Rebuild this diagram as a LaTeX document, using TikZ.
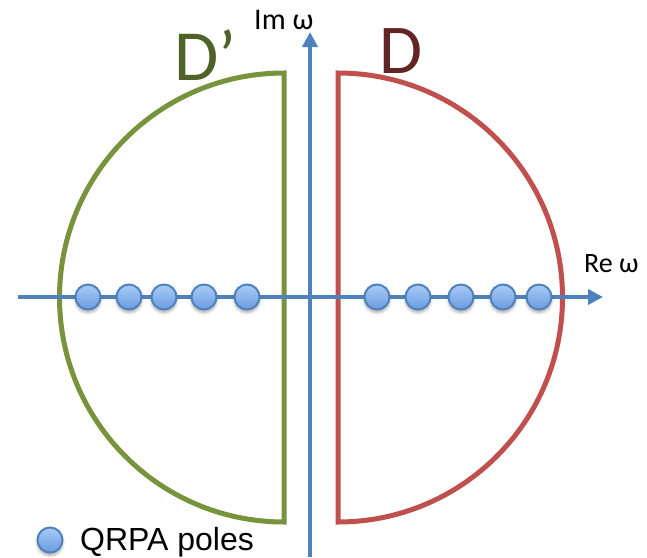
\documentclass[tikz,border=0pt]{standalone}
\usepackage{fontspec}
\setmainfont{Carlito}
\newfontfamily\legendfont{Liberation Sans}
\usetikzlibrary{arrows.meta,shadows.blur}
\definecolor{axisblue}{HTML}{4F81BD}
\definecolor{dgreen}{HTML}{77933C}
\definecolor{dred}{HTML}{C0504D}
\definecolor{txtgreen}{HTML}{4F6228}
\definecolor{txtred}{HTML}{632523}
\definecolor{poletop}{HTML}{A8CBF7}
\definecolor{polebot}{HTML}{6A9CE0}
\tikzset{
  axisline/.style={draw=axisblue,line width=4.8pt,-{Triangle[length=15pt,width=15pt]}},
  region/.style={line width=5pt,line join=miter},
  pole/.style={circle,minimum size=25pt,inner sep=0pt,draw=axisblue,line width=2pt,
    top color=poletop,bottom color=polebot,
    blur shadow={shadow xshift=0pt,shadow yshift=-3pt,shadow blur radius=3pt,shadow opacity=35}},
  lbl/.style={inner sep=0pt,anchor=base west}
}
\begin{document}
\begin{tikzpicture}[x=1pt,y=-1pt]
\useasboundingbox (0,0) rectangle (647,557);
% regions
\draw[region,dgreen] (284,73) -- (284,522) arc[start angle=90,end angle=270,radius=224.5] -- cycle;
\draw[region,dred] (338,73) -- (338,522) arc[start angle=90,end angle=-90,radius=224.5] -- cycle;
% axes
\coordinate (xa) at (18,297);
\coordinate (xb) at (603,297);
\coordinate (ya) at (310,557);
\coordinate (yb) at (310,32);
\draw[axisline] (xa) -- (xb);
\draw[axisline] (ya) -- (yb);
% poles
\foreach \x [count=\i] in {88,129,164,204,247} \node[pole] (l\i) at (\x,297) {};
\foreach \x [count=\i] in {377,418,461,503,539} \node[pole] (r\i) at (\x,297) {};
% labels
\node[lbl,font=\fontsize{30}{30}\selectfont] (im) at (254,29) {Im ω};
\node[lbl,font=\fontsize{28}{28}\selectfont] (re) at (584,272) {Re ω};
\node[lbl,font=\fontsize{72}{72}\selectfont,text=txtgreen] (dp) at (174,80) {D’};
\node[lbl,font=\fontsize{70}{70}\selectfont,text=txtred] (d) at (379,73) {D};
\node[pole] (lg) at (50,540) {};
\node[lbl,font=\legendfont\fontsize{32}{32}\selectfont] (lgt) at (80,550) {QRPA poles};
\end{tikzpicture}
\end{document}
